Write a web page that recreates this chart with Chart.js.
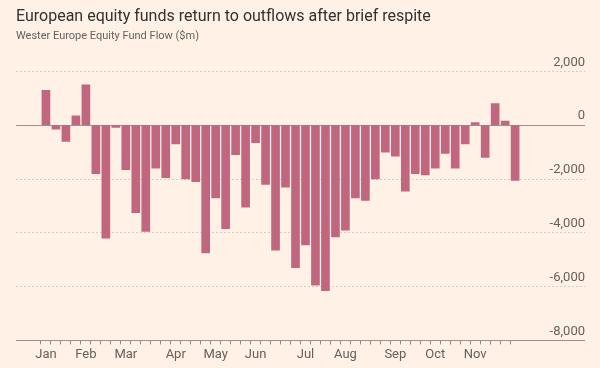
<!DOCTYPE html>
<html lang="en">
<head>
    <meta charset="UTF-8">
    <title>European equity funds return to outflows after brief respite</title>
    <script src="https://cdn.jsdelivr.net/npm/chart.js"></script>
    <style>
        html, body { margin: 0; padding: 0; background: #fff1e5; }
        #wrap { width: 600px; height: 368px; position: relative; }
    </style>
</head>
<body>
    <div id="wrap"><canvas id="chart"></canvas></div>
    <script>
        // weekly flows, $m
        const flows = [1300, -150, -600, 350, 1500, -1800, -4200, -80, -1650, -3250, -3950, -1600,
                       -1950, -700, -2000, -2100, -4750, -2700, -3850, -1100, -3050, -650, -2200, -4650,
                       -2300, -5300, -4450, -5950, -6150, -4150, -3900, -2700, -2800, -2000, -1000, -1150,
                       -2450, -1800, -1850, -1600, -1050, -1600, -700, 100, -1200, 800, 150, -2050];
        // month label -> week index where it appears
        const monthNames = ['Jan', 'Feb', 'Mar', 'Apr', 'May', 'Jun', 'Jul', 'Aug', 'Sep', 'Oct', 'Nov'];
        const monthWeeks = [0, 4, 8, 13, 17, 21, 26, 30, 35, 39, 43];
        const yTicks = [2000, 0, -2000, -4000, -6000, -8000];

        const padBefore = 3, padAfter = 7;
        const weekLabels = flows.map((v, i) => {
            const m = monthWeeks.indexOf(i);
            return m >= 0 ? monthNames[m] : '';
        });
        const labels = Array(padBefore).fill('').concat(weekLabels, Array(padAfter).fill(''));
        const data = Array(padBefore).fill(null).concat(flows, Array(padAfter).fill(null));

        const grey = '#66605c';

        new Chart(document.getElementById('chart'), {
            type: 'bar',
            data: {
                labels: labels,
                datasets: [{
                    data: data,
                    backgroundColor: '#c1667f',
                    barThickness: 8
                }]
            },
            options: {
                responsive: true,
                maintainAspectRatio: false,
                animation: false,
                layout: { padding: { left: 16, right: 15, bottom: 2 } },
                plugins: {
                    legend: { display: false },
                    tooltip: { enabled: false },
                    title: {
                        display: true,
                        text: 'European equity funds return to outflows after brief respite',
                        align: 'start',
                        color: '#33302e',
                        font: { family: 'Roboto', size: 16, weight: 'normal' },
                        padding: { top: 7, bottom: 3 }
                    },
                    subtitle: {
                        display: true,
                        text: 'Wester Europe Equity Fund Flow ($m)',
                        align: 'start',
                        color: grey,
                        font: { family: 'Roboto', size: 11 },
                        padding: { bottom: 29 }
                    }
                },
                scales: {
                    x: {
                        offset: false,
                        border: { display: false },
                        grid: {
                            drawOnChartArea: false,
                            tickLength: 4,
                            color: ctx => (ctx.index >= padBefore && ctx.index < padBefore + flows.length) ? '#8f8780' : 'rgba(0,0,0,0)'
                        },
                        ticks: {
                            autoSkip: false,
                            maxRotation: 0,
                            padding: 3,
                            color: grey,
                            font: { family: 'Roboto', size: 13 },
                            callback: (v, i) => labels[i]
                        }
                    },
                    y: {
                        position: 'right',
                        min: -8000,
                        max: 2000,
                        afterBuildTicks: axis => { axis.ticks = yTicks.map(v => ({ value: v })); },
                        border: {
                            display: false,
                            dash: ctx => (ctx.tick && (ctx.tick.value === 0 || ctx.tick.value === -8000)) ? [] : [2, 2]
                        },
                        grid: {
                            drawTicks: false,
                            color: ctx => (ctx.tick && (ctx.tick.value === 0 || ctx.tick.value === -8000)) ? '#9b928a' : '#d8cbbf'
                        },
                        ticks: {
                            mirror: true,
                            padding: 0,
                            labelOffset: -9,
                            color: grey,
                            font: { family: 'Roboto', size: 13 },
                            callback: v => v.toLocaleString('en-US')
                        }
                    }
                }
            }
        });
    </script>
</body>
</html>
